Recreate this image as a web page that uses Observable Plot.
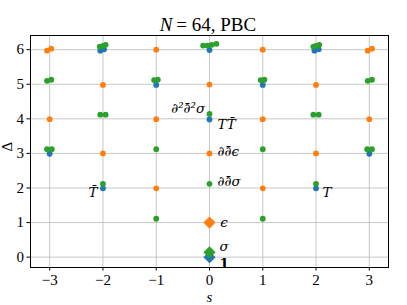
<!DOCTYPE html>
<html>
<head>
<meta charset="utf-8">
<script src="https://cdn.jsdelivr.net/npm/d3@7"></script>
<script src="https://cdn.jsdelivr.net/npm/@observablehq/plot@0.6"></script>
<style>
  html, body { margin: 0; padding: 0; background: white; }
</style>
</head>
<body>
<div id="chart"></div>
<script>
// Tick values
const xTicks = [-3, -2, -1, 0, 1, 2, 3];
const yTicks = [0, 1, 2, 3, 4, 5, 6];

// Identity tower (blue)
const blueS = [-3, -2, -2.05, -1.98, -1, 0, 0, 1, 2, 1.97, 2.05, 3];
const blueD = [2.99, 1.99, 5.97, 6.01, 4.98, 3.98, 5.99, 4.98, 1.99, 5.97, 6.01, 2.99];

// epsilon tower (orange)
const orangeS = [-3.05, -2.97, -1, 1, 2.97, 3.05, -2, 0, 2, -3, -1, 1, 3, -2, 0, 2, -1, 1];
const orangeD = [5.97, 6.03, 6.0, 6.0, 5.97, 6.03, 4.98, 4.99, 4.98, 3.99, 3.99, 3.99, 3.99, 3.0, 3.0, 3.0, 1.99, 1.99];

// sigma tower (green)
const greenS = [-3.05, -2.97, -2.06, -2.0, -1.95, -1.04, -0.97, -0.12, -0.04, 0.04, 0.13,
                0.96, 1.03, 1.95, 2.0, 2.06, 2.97, 3.05,
                -2.05, -1.95, 0, 1.95, 2.05,
                -3.05, -2.96, -1, 1, 2.96, 3.05,
                -2, 0, 2, -1, 1];
const greenD = [5.10, 5.13, 6.09, 6.11, 6.14, 5.12, 5.13, 6.12, 6.12, 6.14, 6.17,
                5.12, 5.13, 6.09, 6.11, 6.14, 5.10, 5.13,
                4.12, 4.12, 4.14, 4.12, 4.12,
                3.12, 3.12, 3.12, 3.12, 3.12, 3.12,
                2.12, 2.12, 2.12, 1.11, 1.11];

// Primaries (diamonds)
const primS = [0, 0, 0];
const primD = [0, 1, 0.14];
const primColor = ["#1f77b4", "#ff7f0e", "#2ca02c"];

// Annotations (left-anchored and right-anchored)
const labRText = ["TT\u0304", "\u2202\u2202\u0304\u03F5", "\u2202\u2202\u0304\u03C3", "\u03F5", "\u03C3", "T"];
const labRS = [0.15, 0.15, 0.15, 0.2, 0.19, 2.12];
const labRD = [3.83, 3.05, 2.19, 1.0, 0.31, 1.85];
const labLText = ["\u2202\u00B2\u2202\u0304\u00B2\u03C3", "T\u0304"];
const labLS = [-0.08, -2.1];
const labLD = [4.3, 1.85];
const boldText = ["1"];
const boldS = [0.19];
const boldD = [-0.18];

const labR = labRText.map((t, i) => ({t, s: labRS[i], d: labRD[i]}));
const labL = labLText.map((t, i) => ({t, s: labLS[i], d: labLD[i]}));
const blue = blueS.map((s, i) => ({s, d: blueD[i]}));
const orange = orangeS.map((s, i) => ({s, d: orangeD[i]}));
const green = greenS.map((s, i) => ({s, d: greenD[i]}));
const prim = primS.map((s, i) => ({s, d: primD[i], c: primColor[i]}));
const bolds = boldText.map((t, i) => ({t, s: boldS[i], d: boldD[i]}));

const fmt = d => d < 0 ? "\u2212" + Math.abs(d) : String(d);
const serif = "'Liberation Serif', 'DejaVu Serif', serif";
const mathFont = "'DejaVu Serif', serif";
const r = 2.9;

const chart = Plot.plot({
  width: 407,
  height: 305,
  marginLeft: 30,
  marginRight: 19,
  marginTop: 35,
  marginBottom: 38,
  x: {domain: [-3.36, 3.36]},
  y: {domain: [-0.3, 6.41]},
  style: {fontFamily: serif, fontSize: "14px", background: "white", color: "black"},
  marks: [
    Plot.gridX(xTicks, {stroke: "#b0b0b0", strokeOpacity: 0.7, strokeWidth: 1}),
    Plot.gridY(yTicks, {stroke: "#b0b0b0", strokeOpacity: 0.7, strokeWidth: 1}),
    Plot.axisX({ticks: xTicks, tickFormat: fmt, tickSize: 3.5, tickPadding: 3, label: null, fontSize: 15}),
    Plot.axisY({ticks: yTicks, tickFormat: fmt, tickSize: 3.5, tickPadding: 3, label: null, fontSize: 15}),
    Plot.frame({stroke: "black", strokeWidth: 1}),
    Plot.dot(blue, {x: "s", y: "d", r, fill: "#1f77b4", stroke: "none"}),
    Plot.dot(orange, {x: "s", y: "d", r, fill: "#ff7f0e", stroke: "none"}),
    Plot.dot(green, {x: "s", y: "d", r, fill: "#2ca02c", stroke: "none"}),
    Plot.dot(prim, {x: "s", y: "d", r: 5.5, symbol: "diamond2", fill: "c", stroke: "none"}),
    Plot.text(labR, {x: "s", y: "d", text: "t", textAnchor: "start", fontFamily: mathFont, fontStyle: "italic", fontSize: 13.5, fill: "black"}),
    Plot.text(labL, {x: "s", y: "d", text: "t", textAnchor: "end", fontFamily: mathFont, fontStyle: "italic", fontSize: 13.5, fill: "black"}),
    Plot.text(bolds, {x: "s", y: "d", text: "t", textAnchor: "start", fontFamily: mathFont, fontWeight: "bold", fontSize: 13.5, fill: "black"}),
    // Title
    Plot.text(["N"], {frameAnchor: "top", dx: -37, dy: -11, textAnchor: "end", lineAnchor: "middle", fontStyle: "italic", fontSize: 19, fill: "black"}),
    Plot.text(["\u2009= 64, PBC"], {frameAnchor: "top", dx: -37, dy: -11, textAnchor: "start", lineAnchor: "middle", fontSize: 19, fill: "black"}),
    // Axis labels
    Plot.text(["s"], {frameAnchor: "bottom", dy: 30, lineAnchor: "middle", fontStyle: "italic", fontSize: 15, fill: "black"}),
    Plot.text(["\u0394"], {frameAnchor: "left", dx: -23, rotate: -90, lineAnchor: "middle", fontSize: 15, fill: "black"})
  ]
});
document.getElementById("chart").appendChild(chart);
</script>
</body>
</html>
